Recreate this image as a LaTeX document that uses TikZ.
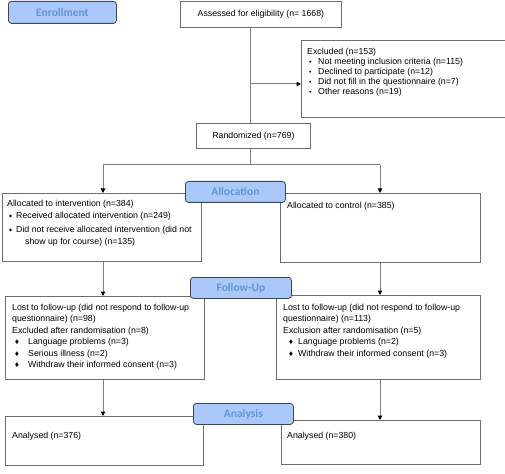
\documentclass[tikz,border=0pt]{standalone}
\usepackage{fontspec}
\setmainfont{Liberation Sans}
\newfontfamily\lblfont{Carlito}
\newfontfamily\symfont{DejaVu Sans}
\usetikzlibrary{arrows.meta}
\definecolor{lblfill}{RGB}{170,200,250}
\definecolor{lbltext}{RGB}{100,150,215}
\definecolor{lbldraw}{RGB}{60,70,90}
\definecolor{boxdraw}{RGB}{110,110,110}
\definecolor{linecol}{RGB}{128,128,128}
\newcommand\fl{\rule{0pt}{7bp}}
\newcommand\dotb{\hspace{2bp}\makebox[9bp][l]{\scalebox{0.8}{•}}}
\newcommand\smd{\hspace{2bp}\makebox[7bp][l]{\raisebox{0.5bp}{{\symfont\fontsize{4}{4}\selectfont ◆}}}}
\newcommand\bigdL{\hspace{2bp}\makebox[14bp][l]{{\symfont\fontsize{6.5}{6}\selectfont ♦}}}
\newcommand\bigdR{\hspace{5bp}\makebox[10bp][l]{{\symfont\fontsize{6.5}{6}\selectfont ♦}}}
\tikzset{
 box/.style={draw=boxdraw, line width=0.8bp, fill=white, rectangle, inner sep=0pt, anchor=north west},
 lbl/.style={draw=lbldraw, fill=lblfill, rounded corners=3bp, line width=0.8bp, inner sep=0pt, anchor=north west, text=lbltext, font=\lblfont\bfseries\fontsize{11.5}{12}\selectfont},
 txt/.style={inner sep=0pt, anchor=north west, align=left},
 conn/.style={draw=linecol, line width=1bp},
 arr/.style={conn, -{Triangle[length=4.5bp,width=4.5bp,black]}},
}
\begin{document}
\begin{tikzpicture}[x=1bp,y=-1bp,font=\fontsize{8.8}{10.6}\selectfont]
\useasboundingbox (0,0) rectangle (505,474);
\fill[white] (0,0) rectangle (505,474);
% boxes
\node[box, minimum width=161bp, minimum height=26bp] (assess) at (180,1) {Assessed for eligibility (n= 1668)};
\node[box, minimum width=203.5bp, minimum height=77bp] (excl) at (301,40) {};
\node[box, minimum width=114bp, minimum height=25bp] (rand) at (196,123) {Randomized (n=769)};
\node[box, minimum width=199bp, minimum height=68bp] (alloc1) at (2,193) {};
\node[box, minimum width=200bp, minimum height=69bp] (alloc2) at (280,193) {};
\node[box, minimum width=199bp, minimum height=83bp] (fu1) at (5,296) {};
\node[box, minimum width=204bp, minimum height=84bp] (fu2) at (276,295) {};
\node[box, minimum width=198bp, minimum height=49bp] (an1) at (5,416) {};
\node[box, minimum width=199bp, minimum height=44bp] (an2) at (281,420) {};
% texts
\node[txt, font=\fontsize{8.8}{10}\selectfont] (exclt) at (307,47.5) {\fl Excluded (n=153)\\
\dotb Not meeting inclusion criteria (n=115)\\
\dotb Declined to participate (n=12)\\
\dotb Did not fill in the questionnaire (n=7)\\
\dotb Other reasons (n=19)};
\node[txt, font=\fontsize{8.8}{12}\selectfont] (alloc1t) at (7,199) {\fl Allocated to intervention (n=384)\\
\smd Received allocated intervention (n=249)\\[2bp]
\smd Did not receive allocated intervention (did not\\
\hspace{18bp}show up for course) (n=135)};
\node[txt] (alloc2t) at (287,201) {\fl Allocated to control (n=385)};
\node[txt, font=\fontsize{8.8}{11.6}\selectfont] (fu1t) at (12,303) {\fl Lost to follow-up (did not respond to follow-up\\
questionnaire) (n=98)\\
Excluded after randomisation (n=8)\\
\bigdL Language problems (n=3)\\
\bigdL Serious illness (n=2)\\
\bigdL Withdraw their informed consent (n=3)};
\node[txt, font=\fontsize{8.8}{11.6}\selectfont] (fu2t) at (283,303) {\fl Lost to follow-up (did not respond to follow-up\\
questionnaire) (n=113)\\
Exclusion after randomisation (n=5)\\
\bigdR Language problems (n=2)\\
\bigdR Withdraw their informed consent (n=3)};
\node[txt] (an1t) at (12,431) {\fl Analysed (n=376)};
\node[txt] (an2t) at (287,431) {\fl Analysed (n=380)};
% connectors
\coordinate (trunk) at (250,0);
\coordinate (br) at (250,84);
\coordinate (split) at (250,165);
\coordinate (lc) at (103,165);
\coordinate (rc) at (380,165);
\draw[conn] (assess.south -| trunk) -- (rand.north -| trunk);
\draw[arr] (br) -- (br -| excl.west);
\draw[conn] (rand.south -| trunk) -- (split);
\draw[conn] (lc) -- (rc);
\draw[arr] (lc) -- (alloc1.north -| lc);
\draw[arr] (rc) -- (alloc2.north -| rc);
\draw[arr] (alloc1.south -| lc) -- (fu1.north -| lc);
\draw[arr] (alloc2.south -| rc) -- (fu2.north -| rc);
\draw[arr] (fu1.south -| lc) -- (an1.north -| lc);
\draw[arr] (fu2.south -| rc) -- (an2.north -| rc);
% stage labels
\node[lbl, minimum width=108bp, minimum height=22bp] (enr) at (8,1) {Enrollment};
\node[lbl, minimum width=100bp, minimum height=21bp] (allocl) at (185,181) {Allocation};
\node[lbl, minimum width=101bp, minimum height=21bp] (ful) at (190,277) {Follow-Up};
\node[lbl, minimum width=100bp, minimum height=21bp] (anl) at (193,403) {Analysis};
\end{tikzpicture}
\end{document}
